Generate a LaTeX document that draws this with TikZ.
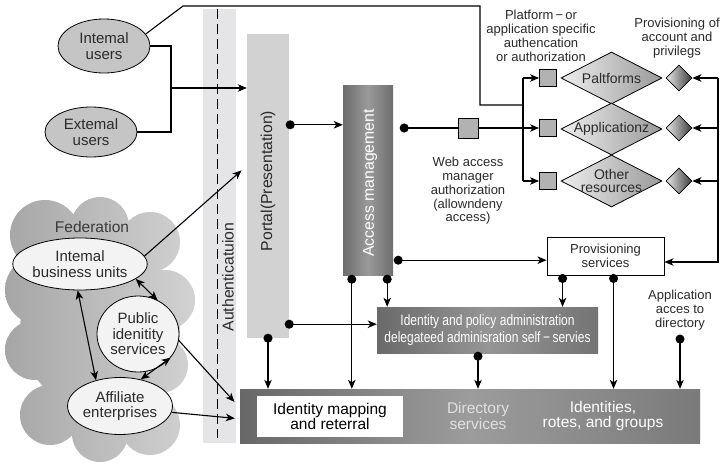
\documentclass[tikz,border=0pt]{standalone}
\usepackage{fontspec}
\setmainfont{Liberation Sans}
\newfontfamily\condfont{Liberation Sans}[FakeStretch=0.8]
\usetikzlibrary{arrows.meta,shapes.geometric,calc}

\definecolor{usergray}{HTML}{C5C5C5}
\definecolor{fedwhite}{HTML}{F3F3F3}
\definecolor{cloudL}{HTML}{A6A6A6}
\definecolor{cloudR}{HTML}{D2D2D2}
\definecolor{authgray}{HTML}{E5E5E7}
\definecolor{portalgray}{HTML}{D2D2D2}
\definecolor{amL}{HTML}{6C6C6C}
\definecolor{amM}{HTML}{9A9A9A}
\definecolor{amR}{HTML}{6E6E6E}
\definecolor{admL}{HTML}{6A6A6A}
\definecolor{admM}{HTML}{959595}
\definecolor{admR}{HTML}{747474}
\definecolor{dirL}{HTML}{686868}
\definecolor{dirM}{HTML}{9C9C9C}
\definecolor{dirR}{HTML}{7A7A7A}
\definecolor{sqgray}{HTML}{B2B2B2}
\definecolor{diaL}{HTML}{EDEDED}
\definecolor{diaR}{HTML}{9A9A9A}
\definecolor{sdL}{HTML}{E8E8E8}
\definecolor{sdR}{HTML}{3C3C3C}
\definecolor{txtdark}{HTML}{2A2A2A}
\definecolor{fedtext}{HTML}{3A3A3A}

\begin{document}
\begin{tikzpicture}[x=1pt,y=-1pt,
  conn/.style={line width=1.1pt},
  arr/.style={conn,-{Stealth[length=9pt,width=7.5pt,inset=2.5pt]}},
  biarr/.style={conn,{Stealth[length=9pt,width=7.5pt,inset=2.5pt]}-{Stealth[length=9pt,width=7.5pt,inset=2.5pt]}},
  dotarr/.style={conn,{Circle[length=9pt]}-{Stealth[length=9pt,width=7.5pt,inset=2.5pt]},shorten <=-4.5pt},
  dotline/.style={conn,{Circle[length=9pt]}-,shorten <=-4.5pt},
  lbl/.style={font=\fontsize{13}{13.8}\selectfont,align=center,inner sep=0,text=txtdark},
  ell/.style={ellipse,draw,line width=0.8pt,inner sep=0,align=center,
    font=\fontsize{15}{15.5}\selectfont,text=txtdark},
  band/.style={rectangle,inner sep=0},
  vtext/.style={rotate=90,font=\fontsize{15.8}{16}\selectfont,inner sep=0},
  sq/.style={rectangle,draw,line width=0.9pt,fill=sqgray,minimum size=17pt,inner sep=0},
  bigdia/.style={diamond,draw,line width=0.8pt,left color=diaL,right color=diaR,
    minimum width=101pt,minimum height=52pt,inner sep=0},
  diatext/.style={align=center,inner sep=0,font=\fontsize{14}{13.5}\selectfont,text=txtdark},
  smalldia/.style={diamond,draw,line width=0.8pt,left color=sdL,right color=sdR,
    minimum width=26pt,minimum height=26pt,inner sep=0},
  bandtext/.style={font=\fontsize{15.5}{15.5}\selectfont,align=center,inner sep=0}
]
\useasboundingbox (0,0) rectangle (725,465);
\fill[white] (0,0) rectangle (725,465);

% federation cloud
\shade[left color=cloudL,right color=cloudR]
  (45,235) circle (35pt) (100,226) circle (29pt) (150,242) circle (30pt)
  (165,300) circle (30pt) (160,365) circle (28pt) (150,425) circle (30pt)
  (100,434) circle (28pt) (50,415) circle (30pt) (35,350) circle (30pt)
  (40,290) circle (35pt) (100,330) circle (80pt);
\node[font=\fontsize{15.5}{16}\selectfont,text=fedtext,inner sep=0] (fedlbl) at (92,227) {Federation};

% users
\node[ell,fill=usergray,minimum width=92pt,minimum height=54pt] (iu) at (104,46) {Intemal\\users};
\node[ell,fill=usergray,minimum width=92pt,minimum height=50pt] (eu) at (91,132) {Extemal\\users};

% authentication band
\node[band,fill=authgray,minimum width=33pt,minimum height=434pt] (auth) at (219.5,226) {};
\draw[line width=0.7pt,dash pattern=on 10pt off 5pt] ($(auth.north)+(-2.5,0)$) -- ($(auth.south)+(-2.5,-5)$);
\node[vtext,text=txtdark] (authlbl) at (228,277) {Authenticatuion};

% portal
\node[band,fill=portalgray,minimum width=42pt,minimum height=304pt] (portal) at (268,186) {};
\node[vtext,text=txtdark] (portallbl) at (268,181) {Portal(Presentation)};

% access management
\node[band,left color=amL,right color=amR,middle color=amM,minimum width=50pt,minimum height=189pt] (am) at (368,180.5) {};
\node[vtext,text=white] (amlbl) at (370,183) {Access management};

% web access manager square
\node[sq,minimum size=20pt] (wsq) at (468,128) {};
\node[lbl] (weblab) at (468,191) {Web access\\manager\\authorization\\(allowndeny\\access)};

% platform squares and resource diamonds
\node[sq] (psq1) at (548,78) {};
\node[sq] (psq2) at (548,128) {};
\node[sq] (psq3) at (548,181) {};
\node[bigdia] (dia1) at (611.5,78) {};
\node[bigdia] (dia2) at (611.5,129) {};
\node[bigdia] (dia3) at (611.5,181) {};
\node[diatext] (dia1t) at (dia1) {Paltforms};
\node[diatext] (dia2t) at (dia2) {Applicationz};
\node[diatext] (dia3t) at (dia3) {Other\\resources};
\node[smalldia] (sd1) at (679,78) {};
\node[smalldia] (sd2) at (679,128) {};
\node[smalldia] (sd3) at (679,181) {};
\node[lbl] (plab) at (541,36) {Platform\,−\,or\\application specific\\authencation\\or authorization};
\node[lbl] (provlab) at (677,38) {Provisioning of\\account and\\privilegs};

% provisioning services
\node[draw,line width=0.9pt,fill=white,minimum width=117pt,minimum height=38pt,inner sep=0,
  align=center,font=\fontsize{13}{13.3}\selectfont,text=txtdark] (prov) at (605.5,256) {Provisioning\\services};

% identity and policy administration
\node[band,left color=admL,right color=admR,middle color=admM,minimum width=221pt,minimum height=46pt,
  text=white,align=center,font=\condfont\fontsize{15}{16.7}\selectfont] (adm) at (487.5,330)
  {Identity and policy administration\\delegateed adminisration self\,−\,servies};

% directory band
\node[band,left color=dirL,right color=dirR,middle color=dirM,minimum width=460pt,minimum height=54pt] (dir) at (470,416) {};
\node[fill=white,minimum width=146pt,minimum height=41pt,inner sep=0,bandtext,text=black] (imap) at (330,416.5) {Identity mapping\\and reterral};
\node[bandtext,text=white!88!black] (dsvc) at (478,416) {Directory\\services};
\node[bandtext,text=white] (idg) at (603,416) {Identities,\\rotes, and groups};

\node[lbl] (applab) at (680,310) {Application\\acces to\\directory};

% federation members
\node[ell,fill=fedwhite,minimum width=110pt,minimum height=52pt] (ibu) at (80,264) {Intemal\\business units};
\node[ell,fill=fedwhite,minimum width=82pt,minimum height=76pt] (pis) at (138,334) {Public\\idenitity\\services};
\node[ell,fill=fedwhite,minimum width=96pt,minimum height=57pt] (aff) at (120,406) {Affiliate\\enterprises};

% ---- connectors ----
% users to portal
\coordinate (ujoin) at (171,88);
\draw[conn] (iu.east) -| (ujoin) |- (eu.east);
\draw[arr] (ujoin) -- (ujoin -| portal.west);

% internal users to platform-specific authentication
\coordinate (tA) at (183,6);
\coordinate (tB) at (480,6);
\coordinate (jx) at (523,105);
\draw[conn] (iu.16) -- (tA) -- (tB) |- (jx);
\draw[conn] (jx |- psq1) -- (jx |- psq3);
\draw[arr] (jx |- psq1) -- (psq1.west);
\draw[arr] (jx |- psq3) -- (psq3.west);
\draw[dotline] ($(am.east |- wsq)+(11,0)$) -- (wsq.west);
\draw[arr] (wsq.east) -- (psq2.west);

% provisioning of accounts
\coordinate (rx) at (718,78);
\coordinate (provin) at ($(prov.east)+(0,6)$);
\draw[arr] (rx) |- (provin);
\draw[arr] (rx |- sd1) -- (sd1.east);
\draw[arr] (rx |- sd2) -- (sd2.east);
\draw[arr] (rx |- sd3) -- (sd3.east);

% portal and access management
\coordinate (pam) at ($(portal.north east)+(1,91)$);
\draw[dotarr] (pam) -- (pam -| am.west);
\coordinate (amp) at ($(am.south east)+(5,-15)$);
\draw[dotarr] (amp) -- (amp -| prov.west);
\coordinate (amd1) at ($(am.south west)+(9,4)$);
\draw[dotarr] (amd1) -- (amd1 |- dir.north);
\coordinate (amd2) at ($(am.south east)+(-6,4)$);
\draw[dotarr] (amd2) -- (amd2 |- adm.north);
\coordinate (pv1) at ($(prov.south west)+(16,3)$);
\draw[dotarr] (pv1) -- (pv1 |- adm.north);
\coordinate (pv2) at ($(prov.south west)+(67,3)$);
\draw[dotarr] (pv2) -- (pv2 |- dir.north);
\coordinate (pad) at ($(portal.south east)+(0,-14)$);
\draw[dotarr] (pad) -- (pad -| adm.west);
\draw[dotarr] (portal.south) -- (portal.south |- dir.north);
\coordinate (ad) at ($(adm.south)+(-9.5,3)$);
\draw[dotarr] (ad) -- (ad |- dir.north);
\coordinate (appd) at ($(applab.south)+(0,9)$);
\draw[dotarr] (appd) -- (appd |- dir.north);

% federation links
\draw[biarr] (ibu.-15) -- (pis.60);
\draw[biarr] (ibu.-95) -- (aff.133);
\draw[biarr] (pis.-36) -- (aff.52);
\coordinate (pin) at ($(portal.north west)+(0,132)$);
\draw[arr,shorten >=7pt] (ibu.7) -- (pin);
\coordinate (din1) at ($(dir.north west)+(0,19)$);
\draw[arr,shorten >=8pt] (pis.-9) -- (din1);
\coordinate (din2) at ($(dir.north west)+(0,30)$);
\draw[arr,shorten >=5pt] (aff.-7) -- (din2);
\end{tikzpicture}
\end{document}
